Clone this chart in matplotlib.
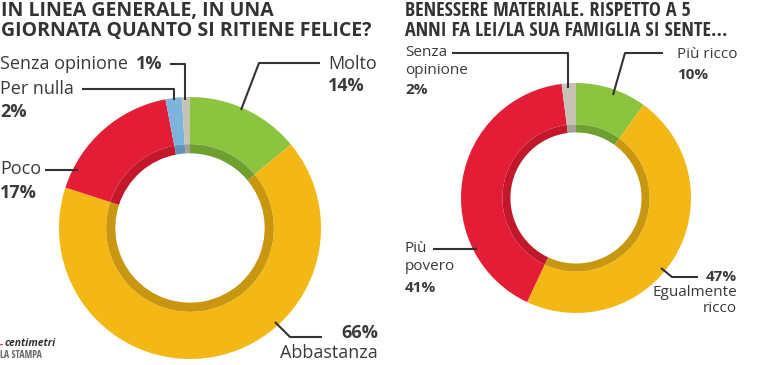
import matplotlib
matplotlib.use('Agg')
import matplotlib.pyplot as plt
from matplotlib import font_manager

# data
happy_labels = ['Molto', 'Abbastanza', 'Poco', 'Per nulla', 'Senza opinione']
happy_values = [14, 66, 17, 2, 1]
happy_colors = ['#8cc43f', '#f4b816', '#e31d35', '#7db4dc', '#c7c2b6']
happy_dark = ['#6f9f2f', '#c9960f', '#c3172c', '#5f93bb', '#a6a196']

wealth_labels = ['Più ricco', 'Egualmente ricco', 'Più povero', 'Senza opinione']
wealth_values = [10, 47, 41, 2]
wealth_colors = ['#8cc43f', '#f4b816', '#e31d35', '#c7c2b6']
wealth_dark = ['#6f9f2f', '#c9960f', '#c3172c', '#a6a196']

title_left = 'IN LINEA GENERALE, IN UNA\nGIORNATA QUANTO SI RITIENE FELICE?'
title_right = 'BENESSERE MATERIALE. RISPETTO A 5\nANNI FA LEI/LA SUA FAMIGLIA SI SENTE...'

names = {f.name for f in font_manager.fontManager.ttflist}
if 'Open Sans Condensed' in names:
    cond_font, cond_size = 'Open Sans Condensed', 14.4
else:
    cond_font, cond_size = 'DejaVu Sans', 11
body_font = 'Open Sans'

W, H = 759, 365
fig = plt.figure(figsize=(W / 100, H / 100), dpi=100)
ax = fig.add_axes([0, 0, 1, 1])

TXT = '#3a3a3a'


def Y(py):
    return H - py


def donut(values, colors, dark, cx, cy, R):
    ax.pie(values, colors=colors, startangle=90, counterclock=False,
           radius=R, center=(cx, Y(cy)),
           wedgeprops=dict(width=R * 0.36, linewidth=0))
    ax.pie(values, colors=dark, startangle=90, counterclock=False,
           radius=R * 0.64, center=(cx, Y(cy)),
           wedgeprops=dict(width=R * 0.07, linewidth=0))


donut(happy_values, happy_colors, happy_dark, 190, 228, 131)
donut(wealth_values, wealth_colors, wealth_dark, 576, 198, 115)


def txt(x, y, s, bold=False, ha='left', size=13):
    ax.text(x, Y(y), s, ha=ha, va='center', fontsize=size, color=TXT,
            family=body_font, fontweight='bold' if bold else 'normal')


def line(pts):
    ax.plot([p[0] for p in pts], [Y(p[1]) for p in pts], color='#333333',
            lw=1.5, solid_capstyle='butt')


# titles
ax.text(1, Y(1), title_left, ha='left', va='top', fontsize=14,
        fontweight='bold', family=body_font, color='#333333', linespacing=1.0)
ax.text(405, Y(1), title_right, ha='left', va='top', fontsize=cond_size,
        fontweight='bold', family=cond_font, color='#333333', linespacing=1.0)

# left labels
txt(0, 64, 'Senza opinione')
txt(136, 64, f'{happy_values[4]}%', bold=True)
line([(170, 64), (185, 64), (185, 100)])
txt(0, 89, happy_labels[3])
txt(0, 112, f'{happy_values[3]}%', bold=True)
line([(82, 89), (174, 89), (174, 100)])
txt(0, 169, happy_labels[2])
txt(0, 193, f'{happy_values[2]}%', bold=True)
line([(45, 170), (78, 170)])
txt(328, 64, happy_labels[0])
txt(328, 86, f'{happy_values[0]}%', bold=True)
line([(320, 63), (259, 63), (241, 110)])
txt(378, 333, f'{happy_values[1]}%', bold=True, ha='right')
txt(378, 353, happy_labels[1], ha='right')
line([(275, 322), (290, 337), (322, 337)])

# right labels
txt(405, 53, 'Senza', size=11)
txt(405, 71, 'opinione', size=11)
txt(405, 90, f'{wealth_values[3]}%', bold=True, size=11)
line([(452, 53), (568, 53), (568, 88)])
txt(677, 55, wealth_labels[0], size=11)
txt(677, 75, f'{wealth_values[0]}%', bold=True, size=11)
line([(663, 53), (625, 53), (613, 95)])
txt(405, 249, 'Più', size=11)
txt(405, 267, 'povero', size=11)
txt(405, 288, f'{wealth_values[2]}%', bold=True, size=11)
line([(433, 249), (477, 249)])
txt(737, 277, f'{wealth_values[1]}%', bold=True, ha='right', size=11)
txt(737, 293, 'Egualmente', ha='right', size=11)
txt(737, 308, 'ricco', ha='right', size=11)
line([(661, 268), (672, 277), (698, 277)])

# source logo
ax.text(0, Y(344), '-', ha='left', va='center', fontsize=7, color='#e0303a',
        fontweight='bold', family=body_font)
ax.text(5, Y(344), 'centimetri', ha='left', va='center', fontsize=7.5,
        color='#333333', fontweight='bold', style='italic', family=body_font)
ax.text(0, Y(355), 'LA STAMPA', ha='left', va='center', fontsize=7,
        color='#666666', family=cond_font)

ax.set_xlim(0, W)
ax.set_ylim(0, H)
ax.set_aspect('auto')
ax.axis('off')

fig.savefig('out.png', dpi=100)
